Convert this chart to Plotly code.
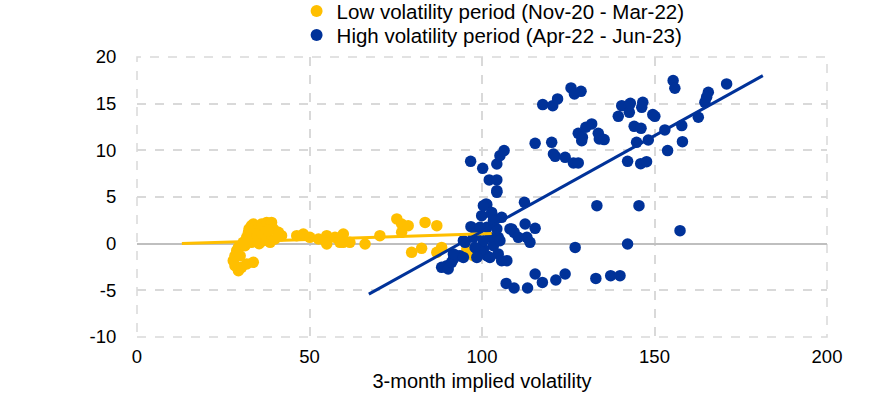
import plotly.graph_objects as go

# Low volatility period (Nov-20 - Mar-22)
low_x = [28.4, 29.4, 30.3, 31.8, 33.7, 27.9, 28.4, 28.9, 29.4, 30.8, 31.8, 32.3, 33.2, 33.7,
         35.2, 36.1, 36.6, 37.6, 39.0, 39.5, 41.0, 41.9, 40.0, 38.6, 36.6, 34.7, 33.2, 34.7,
         37.6, 31.3, 29.9, 32.5, 36.2, 38.0, 35.4,
         46.3, 48.2, 50.1, 52.6, 55.0, 55.0, 54.5, 57.4, 58.8, 59.8, 59.8, 61.7, 66.1, 70.4,
         75.3, 76.7, 76.7, 78.6, 79.6, 82.5, 83.5, 86.9, 86.9, 88.3, 95.6, 97.0, 97.5]
low_y = [-2.36, -2.89, -2.54, -2.18, -2.00, -1.82, -1.29, -0.75, -0.40, 0.14, 0.68, 1.21, 1.93, 2.11,
         1.75, 2.11, 1.39, 2.28, 2.28, 1.58, 1.21, 0.86, 0.50, 0.14, 0.32, 0.50, 0.14, 1.04,
         0.86, -0.21, -1.29, 1.60, 0.86, 1.40, 0.00,
         0.86, 1.04, 0.68, 0.50, 0.86, -0.03, 0.32, 0.68, 0.14, 1.04, 0.14, 0.14, -0.03, 0.86,
         2.65, 2.11, 1.21, 1.93, -0.93, -0.50, 2.28, 1.93, -0.93, -0.40, -0.57, -0.75, -1.29]

# High volatility period (Apr-22 - Jun-23)
high_x = [117.6, 120.5, 121.9, 125.8, 126.8, 128.7, 120.2, 120.7, 121.2, 124.1, 126.5, 127.9,
          127.9, 128.9, 129.1, 130.1, 131.8, 133.7, 134.0, 135.4, 139.5, 140.5, 142.7, 142.7,
          146.6, 146.3, 149.5, 150.1, 144.1, 146.1, 144.8, 148.2, 142.2, 146.0, 147.7, 153.0,
          153.8, 157.9, 158.1, 162.7, 155.4, 155.9, 164.6, 165.6, 170.9, 165.1, 143.0,
          133.3, 145.5, 96.7, 100.2, 104.3, 105.2, 106.4, 102.1, 104.3, 104.3, 101.4, 115.4,
          112.3, 157.4, 127.0, 142.2, 107.0, 109.3, 113.2, 115.4, 117.5, 121.4, 124.1, 133.0,
          137.3, 140.0, 101.2, 104.3, 99.9, 102.8, 105.7, 96.8, 101.4, 97.5, 95.1, 108.6,
          109.3, 112.5, 115.4, 113.0, 113.9, 104.7, 103.3, 100.4, 98.5, 101.4, 104.7, 105.7,
          107.2, 93.6, 91.7, 89.8, 88.3, 90.2, 91.2, 92.7, 99.4, 98.5,
          100.4, 102.8, 103.3, 99.4, 104.3, 102.3, 105.2, 100.4, 98.0, 94.6, 91.7, 94.6,
          98.5, 102.3, 108.1, 110.5]
high_y = [14.90, 14.79, 15.51, 16.69, 16.04, 16.32, 10.86, 9.61, 9.36, 9.25, 8.65, 8.65,
          11.82, 11.04, 11.39, 12.47, 12.83, 11.82, 11.22, 11.15, 13.64, 14.79, 14.87, 14.07,
          15.14, 14.61, 13.83, 13.64, 12.57, 12.36, 10.86, 11.11, 8.82, 8.57, 8.79, 12.19,
          9.97, 12.65, 10.93, 13.54, 17.47, 16.65, 15.14, 16.22, 17.12, 15.70, 15.05,
          4.07, 4.07, 8.82, 8.07, 8.54, 9.43, 9.97, 6.83, 6.83, 5.68, 4.18, 10.75,
          4.43, 1.39, -0.40, -0.03, -4.26, -4.75, -4.75, -3.25, -4.15, -3.89, -3.25, -3.72,
          -3.43, -3.43, 4.26, 5.50, 3.00, 3.18, 2.82, 1.82, 1.75, 0.68, 0.14, 1.58,
          1.21, 2.11, 1.64, 0.68, 0.14, 0.68, -0.21, -0.57, -0.57, -1.29, -1.10, -1.82,
          -1.82, -1.29, -1.64, -2.36, -2.54, -2.71, -2.00, -1.29, -0.75, 1.21,
          4.07, 3.35, 2.47, 1.75, 1.58, 0.68, 0.32, 0.32, -0.40, 0.32, -1.10, -1.47,
          -1.47, -1.47, 1.58, 0.68]

# Linear trend lines (end points)
low_fit_x = [13.0, 102.8]
low_fit_y = [0.01, 1.10]
high_fit_x = [67.2, 181.4]
high_fit_y = [-5.41, 18.0]

x_ticks = [0, 50, 100, 150, 200]
y_ticks = [-10, -5, 0, 5, 10, 15, 20]
y_tick_labels = ["-10", "-5", "0", "5", "10", "15", "20"]

YELLOW = "#FFBF00"
BLUE = "#003299"
GRID = "#D9D9D9"

fig = go.Figure()
fig.add_trace(go.Scatter(x=low_x, y=low_y, mode="markers", name="Low volatility period (Nov-20 - Mar-22)",
                         marker=dict(color=YELLOW, size=11.5), legend="legend"))
fig.add_trace(go.Scatter(x=high_x, y=high_y, mode="markers", name="High volatility period (Apr-22 - Jun-23)",
                         marker=dict(color=BLUE, size=11.5), legend="legend2"))
fig.add_trace(go.Scatter(x=low_fit_x, y=low_fit_y, mode="lines", showlegend=False,
                         line=dict(color=YELLOW, width=3), hoverinfo="skip"))
fig.add_trace(go.Scatter(x=high_fit_x, y=high_fit_y, mode="lines", showlegend=False,
                         line=dict(color=BLUE, width=3), hoverinfo="skip"))

# dashed frame at the range edges (grid lines at 0/200 and -10/20)
fig.add_shape(type="rect", xref="paper", yref="paper", x0=0, x1=1, y0=0, y1=1,
              line=dict(color=GRID, width=1.5, dash="dash"), layer="below")

font_family = "Liberation Sans, Arial, sans-serif"
legend_common = dict(xanchor="left", yanchor="middle", orientation="v",
                     bgcolor="rgba(0,0,0,0)", font=dict(size=20.5), itemsizing="constant",
                     itemwidth=30)
fig.update_layout(
    width=885, height=398,
    margin=dict(l=137, r=58, t=57, b=61, autoexpand=False),
    paper_bgcolor="white", plot_bgcolor="white",
    font=dict(family=font_family, size=18.5, color="black"),
    showlegend=True,
    legend=dict(x=0.2313, y=1.164, **legend_common),
    legend2=dict(x=0.2313, y=1.078, **legend_common),
    xaxis=dict(range=[0, 200], tickvals=x_ticks, showgrid=True, gridcolor=GRID,
               griddash="dash", gridwidth=1.5, zeroline=False, showline=False,
               ticks="outside", ticklen=3, tickcolor="rgba(0,0,0,0)",
               tickfont=dict(size=18.5),
               title=dict(text="3-month implied volatility", standoff=7, font=dict(size=20))),
    yaxis=dict(range=[-10, 20], tickvals=y_ticks, ticktext=y_tick_labels, showgrid=True,
               gridcolor=GRID, griddash="dash", gridwidth=1.5, zeroline=True,
               zerolinecolor="#BFBFBF", zerolinewidth=2, showline=False,
               tickfont=dict(size=18.5),
               ticks="outside", ticklen=16, tickcolor="rgba(0,0,0,0)"),
)

fig.write_html("out.html", config={"displayModeBar": False},
               post_script="document.body.style.margin='0';")
